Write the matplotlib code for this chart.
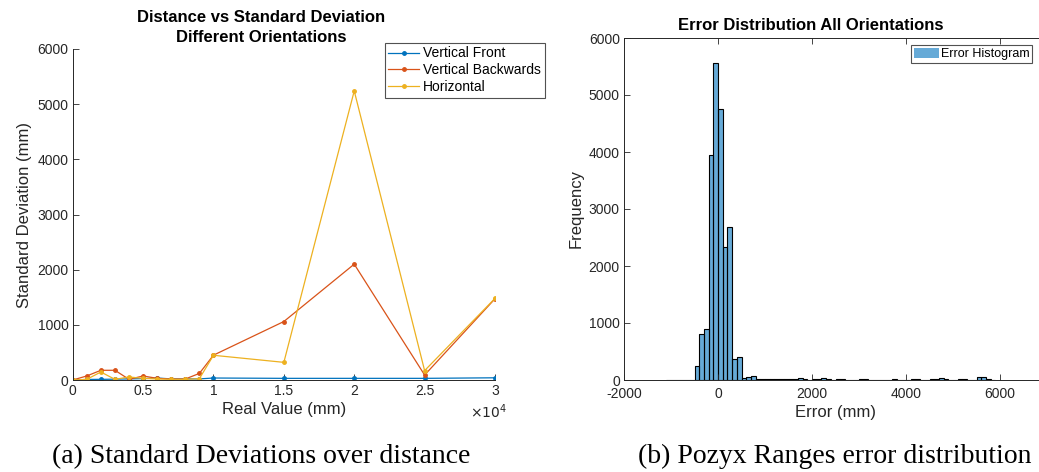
import numpy as np
import matplotlib
matplotlib.use("Agg")
import matplotlib.pyplot as plt
from matplotlib.ticker import FuncFormatter

plt.rcParams['font.family'] = ['Liberation Sans', 'DejaVu Sans']
plt.rcParams['axes.unicode_minus'] = False

# ---- data: standard deviation vs real distance ----
real_value = [0, 1000, 2000, 3000, 4000, 5000, 6000, 7000, 8000, 9000,
              10000, 15000, 20000, 25000, 30000]
vert_front = [0, 10, 12, 15, 20, 25, 36, 20, 20, 20, 36, 30, 30, 30, 40]
vert_back = [0, 73, 176, 176, 12, 73, 30, 18, 18, 120, 450, 1060, 2100, 90, 1473]
horizontal = [0, 12, 145, 12, 55, 30, 18, 12, 12, 25, 448, 320, 5240, 170, 1480]
series_names = ["Vertical Front", "Vertical Backwards", "Horizontal"]

# ---- data: error histogram (bin width 100 mm, first bin starts at -1100) ----
hist_start = -1100
hist_width = 100
hist_counts = [3, 5, 5, 8, 5, 8, 250, 800, 900, 3940, 5570, 4760, 2330, 2680,
               370, 400, 40, 55, 70, 25, 15, 20, 25, 25, 15, 15, 10, 15, 35, 10,
               8, 15, 25, 40, 20, 8, 10, 20, 8, 5, 8, 10, 12, 6, 5, 5, 8, 5, 10,
               8, 5, 8, 10, 15, 8, 5, 12, 25, 30, 12, 8, 5, 10, 15, 8, 5, 55,
               55, 10, 5]

W, H = 1039, 472
fig = plt.figure(figsize=(W / 100, H / 100), dpi=100)

tick_col = '#262626'

# ---------------- left chart ----------------
ax1 = fig.add_axes([72.7 / W, 1 - 380 / H, (495 - 72.7) / W, (380 - 49) / H])
colors = ['#0072BD', '#D95319', '#EDB120']
for ys, c, nm in zip([vert_front, vert_back, horizontal], colors, series_names):
    ax1.plot(real_value, ys, color=c, lw=0.9, marker='.', ms=5, label=nm)
ax1.set_xlim(0, 30000)
ax1.set_ylim(0, 6000)
ax1.set_xticks(np.arange(0, 30001, 5000))
ax1.xaxis.set_major_formatter(FuncFormatter(lambda v, p: f"{v / 1e4:g}"))
ax1.set_yticks(np.arange(0, 6001, 1000))
ax1.spines['top'].set_visible(False)
ax1.spines['right'].set_visible(False)
ax1.set_xlabel("Real Value (mm)", fontsize=12, color=tick_col, labelpad=3)
ax1.set_ylabel("Standard Deviation (mm)", fontsize=12, color=tick_col, labelpad=4)
leg1 = ax1.legend(loc='upper left', bbox_to_anchor=(385 / W, 1 - 43 / H),
                  bbox_transform=fig.transFigure, fontsize=10, frameon=True,
                  fancybox=False, borderpad=0.25, labelspacing=0.2,
                  handlelength=2.2, handletextpad=0.3, borderaxespad=0)
leg1.get_frame().set_edgecolor('#262626')
leg1.get_frame().set_linewidth(0.8)
fig.text(470 / W, 1 - 418 / H, r'$\times10^{4}$', fontsize=10, color=tick_col,
         ha='left', va='baseline')
fig.text(261 / W, 1 - 22 / H, "Distance vs Standard Deviation", fontsize=12,
         weight='bold', ha='center', va='baseline')
fig.text(261 / W, 1 - 42 / H, "Different Orientations", fontsize=12,
         weight='bold', ha='center', va='baseline')

# ---------------- right chart ----------------
ax2 = fig.add_axes([624 / W, 1 - 380 / H, (1047 - 624) / W, (380 - 38) / H])
bin_left = hist_start + hist_width * np.arange(len(hist_counts))
ax2.bar(bin_left, hist_counts, width=hist_width, align='edge',
        color='#0072BD', alpha=0.6, edgecolor='none', label='Error Histogram')
ax2.bar(bin_left, hist_counts, width=hist_width, align='edge',
        fill=False, edgecolor='black', lw=0.8)
ax2.set_xlim(-2000, 7000)
ax2.set_ylim(0, 6000)
ax2.set_xticks(np.arange(-2000, 7001, 2000))
ax2.set_yticks(np.arange(0, 6001, 1000))
ax2.set_xlabel("Error (mm)", fontsize=12, color=tick_col, labelpad=3)
ax2.set_ylabel("Frequency", fontsize=12, color=tick_col, labelpad=4)
leg2 = ax2.legend(loc='upper left', bbox_to_anchor=(911 / W, 1 - 45 / H),
                  bbox_transform=fig.transFigure, fontsize=9, frameon=True,
                  fancybox=False, borderpad=0.2, handlelength=2.0,
                  handleheight=0.9, handletextpad=0.2, borderaxespad=0)
leg2.get_frame().set_edgecolor('#262626')
leg2.get_frame().set_linewidth(0.8)
fig.text(811 / W, 1 - 30 / H, "Error Distribution All Orientations",
         fontsize=12, weight='bold', ha='center', va='baseline')

for ax in (ax1, ax2):
    ax.tick_params(direction='in', length=4, width=0.6, labelsize=10,
                   colors=tick_col, pad=3)
    for s in ax.spines.values():
        s.set_color(tick_col)
        s.set_linewidth(0.7)
ax2.tick_params(top=True, right=True)
ax2.tick_params(axis='x', pad=5)

# ---------------- captions ----------------
fig.text(261 / W, 1 - 463 / H, "(a) Standard Deviations over distance",
         fontsize=20, family='Liberation Serif', ha='center', va='baseline')
fig.text(835 / W, 1 - 463 / H, "(b) Pozyx Ranges error distribution",
         fontsize=20, family='Liberation Serif', ha='center', va='baseline')

fig.savefig("out.png", dpi=100)
